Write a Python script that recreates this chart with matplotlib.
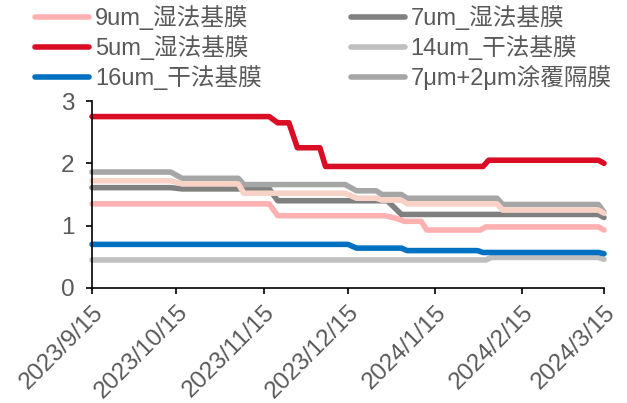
import matplotlib
matplotlib.use('Agg')
import matplotlib.pyplot as plt
import numpy as np
import pandas as pd

plt.rcParams['font.family'] = ['Liberation Sans', 'Noto Sans CJK SC', 'DejaVu Sans']

# ---- data ----
tick_dates = ['2023-09-15', '2023-10-15', '2023-11-15', '2023-12-15',
              '2024-01-15', '2024-02-15', '2024-03-15']
tick_labels = ['2023/9/15', '2023/10/15', '2023/11/15', '2023/12/15',
               '2024/1/15', '2024/2/15', '2024/3/15']

d_5um = ['2023-09-15', '2023-11-17', '2023-11-20', '2023-11-24', '2023-11-27',
         '2023-12-05', '2023-12-07', '2024-02-01', '2024-02-03', '2024-03-13', '2024-03-15']
v_5um = [2.75, 2.75, 2.65, 2.65, 2.25, 2.25, 1.95, 1.95, 2.05, 2.05, 2.00]

d_9um = ['2023-09-15', '2023-11-17', '2023-11-20', '2023-12-28', '2024-01-01',
         '2024-01-04', '2024-01-10', '2024-01-12', '2024-01-31', '2024-02-02',
         '2024-03-13', '2024-03-15']
v_9um = [1.35, 1.35, 1.16, 1.16, 1.12, 1.07, 1.07, 0.93, 0.93, 0.98, 0.98, 0.93]

d_7um = ['2023-09-15', '2023-10-13', '2023-10-17', '2023-11-17', '2023-11-20',
         '2023-12-29', '2024-01-03', '2024-03-13', '2024-03-15']
v_7um = [1.61, 1.61, 1.59, 1.59, 1.40, 1.40, 1.18, 1.18, 1.13]

d_14um = ['2023-09-15', '2024-02-02', '2024-02-04', '2024-03-13', '2024-03-15']
v_14um = [0.45, 0.45, 0.49, 0.49, 0.46]

d_16um = ['2023-09-15', '2023-12-15', '2023-12-18', '2024-01-03', '2024-01-05',
          '2024-01-30', '2024-02-01', '2024-03-13', '2024-03-15']
v_16um = [0.70, 0.70, 0.64, 0.64, 0.60, 0.60, 0.57, 0.57, 0.55]

d_coat = ['2023-09-15', '2023-10-13', '2023-10-17', '2023-11-06', '2023-11-08',
          '2023-12-14', '2023-12-18', '2023-12-25', '2023-12-27', '2024-01-03',
          '2024-01-05', '2024-02-06', '2024-02-08', '2024-03-13', '2024-03-15']
v_coat = [1.86, 1.86, 1.76, 1.76, 1.66, 1.66, 1.56, 1.56, 1.50, 1.50,
          1.44, 1.44, 1.34, 1.34, 1.22]

d_peach = ['2023-09-15', '2023-10-13', '2023-10-17', '2023-11-06', '2023-11-08',
           '2023-12-14', '2023-12-18', '2023-12-25', '2023-12-27', '2024-01-03',
           '2024-01-05', '2024-02-06', '2024-02-08', '2024-03-13', '2024-03-15']
v_peach = [1.72, 1.72, 1.67, 1.67, 1.52, 1.52, 1.44, 1.44, 1.41, 1.41,
           1.35, 1.35, 1.25, 1.25, 1.20]

# ---- figure ----
W, H = 627, 403
fig = plt.figure(figsize=(W / 100, H / 100), dpi=100)
ax = fig.add_axes([92 / W, 1 - 288 / H, (604 - 92) / W, (288 - 101) / H])

lw = 4.0
txt = '#595959'
series = [
    (d_14um, v_14um, '#BFBFBF', '14um_干法基膜'),
    (d_16um, v_16um, '#0070C0', '16um_干法基膜'),
    (d_9um, v_9um, '#FFB1B1', '9um_湿法基膜'),
    (d_7um, v_7um, '#808080', '7um_湿法基膜'),
    (d_coat, v_coat, '#A6A6A6', '7μm+2μm涂覆隔膜'),
    (d_peach, v_peach, '#F8D2C6', None),
    (d_5um, v_5um, '#DA0D25', '5um_湿法基膜'),
]
handles = {}
for d, v, c, lab in series:
    ln, = ax.plot(pd.to_datetime(d), v, color=c, lw=lw,
                  solid_capstyle='round', solid_joinstyle='round', clip_on=False)
    if lab:
        handles[lab] = ln

ax.set_ylim(0, 3)
ax.set_yticks([0, 1, 2, 3])
ax.set_xlim(pd.Timestamp(tick_dates[0]), pd.Timestamp(tick_dates[-1]))
ax.set_xticks(pd.to_datetime(tick_dates))
ax.set_xticklabels(tick_labels, rotation=45, ha='right', rotation_mode='anchor')

for s in ['top', 'right']:
    ax.spines[s].set_visible(False)
for s in ['left', 'bottom']:
    ax.spines[s].set_linewidth(1.2)
    ax.spines[s].set_color('black')
ax.tick_params(axis='both', direction='out', length=4.5, width=1.2,
               colors='black', labelcolor=txt, labelsize=17.5)
ax.tick_params(axis='x', pad=5)
ax.tick_params(axis='y', pad=8)

order = ['9um_湿法基膜', '5um_湿法基膜', '16um_干法基膜',
         '7um_湿法基膜', '14um_干法基膜', '7μm+2μm涂覆隔膜']
leg = fig.legend([handles[k] for k in order], order, loc='upper left',
                 bbox_to_anchor=(35 / W, 1 - 5 / H), bbox_transform=fig.transFigure,
                 ncol=2, frameon=False, fontsize=17, handlelength=2.3,
                 handletextpad=0.25, columnspacing=3.75, labelspacing=0.22,
                 borderpad=0, borderaxespad=0, labelcolor=txt)

fig.savefig('out.png', dpi=100)
